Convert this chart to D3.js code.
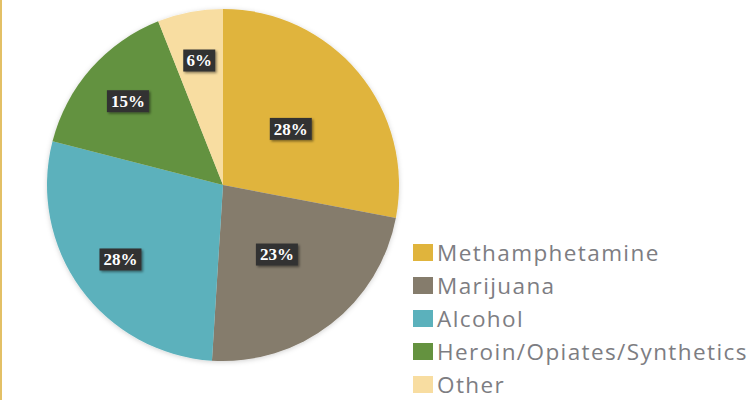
<!DOCTYPE html>
<html>
<head>
<meta charset="utf-8">
<script src="https://cdn.jsdelivr.net/npm/d3@7"></script>
<style>
  html, body { margin: 0; padding: 0; background: #fff; }
  svg { display: block; }
</style>
</head>
<body>
<svg id="chart"></svg>
<script>
const categories = ["Methamphetamine", "Marijuana", "Alcohol", "Heroin/Opiates/Synthetics", "Other"];
const shares = [28, 23, 28, 15, 6];
const colors = ["#e0b43c", "#857c6c", "#5bb1bc", "#64923f", "#f8dda1"];

const width = 754;
const height = 400;
const radius = 176;
const cx = 223, cy = 185;

const svg = d3.select("#chart").attr("width", width).attr("height", height);

// thin gold rule on the left edge
svg.append("rect").attr("x", 0).attr("y", 0).attr("width", 2).attr("height", height).attr("fill", "#e3c066");

const defs = svg.append("defs");
const shadow = defs.append("filter").attr("id", "soft").attr("x", "-10%").attr("y", "-10%").attr("width", "120%").attr("height", "120%");
shadow.append("feDropShadow").attr("dx", 0).attr("dy", 1).attr("stdDeviation", 2.5).attr("flood-color", "#000").attr("flood-opacity", 0.18);
const boxShadow = defs.append("filter").attr("id", "boxsh").attr("x", "-20%").attr("y", "-20%").attr("width", "150%").attr("height", "160%");
boxShadow.append("feDropShadow").attr("dx", 1.5).attr("dy", 1.5).attr("stdDeviation", 1).attr("flood-color", "#000").attr("flood-opacity", 0.45);

const pieData = d3.pie().sort(null).value((d) => d)(shares);
const arc = d3.arc().innerRadius(0).outerRadius(radius);

const g = svg.append("g").attr("transform", `translate(${cx},${cy})`);

g.append("g").attr("filter", "url(#soft)")
  .selectAll("path")
  .data(pieData)
  .enter().append("path")
  .attr("d", arc)
  .attr("fill", (d, i) => colors[i]);

// labels: the two right slices sit at half radius, the others further out
const labels = g.selectAll("g.lbl")
  .data(pieData)
  .enter().append("g")
  .attr("class", "lbl")
  .attr("transform", (d, i) => {
    const r = i < 2 ? radius * 0.5 : radius * 0.72;
    const a = (d.startAngle + d.endAngle) / 2;
    return `translate(${r * Math.sin(a)},${-r * Math.cos(a)})`;
  });

labels.append("rect")
  .attr("x", (d) => (d.data < 10 ? -16 : -21))
  .attr("y", -11)
  .attr("width", (d) => (d.data < 10 ? 32 : 42))
  .attr("height", 22)
  .attr("fill", "#333333")
  .attr("filter", "url(#boxsh)");

labels.append("text")
  .attr("text-anchor", "middle")
  .attr("dy", "0.35em")
  .attr("fill", "#fff")
  .attr("font-family", "'Liberation Serif', 'DejaVu Serif', serif")
  .attr("font-weight", "bold")
  .attr("font-size", 17)
  .text((d) => d.data + "%");

// legend
const legend = svg.append("g").attr("transform", "translate(413,252.5)");
const rows = legend.selectAll("g")
  .data(categories)
  .enter().append("g")
  .attr("transform", (d, i) => `translate(0,${i * 33})`);

rows.append("rect")
  .attr("x", 0).attr("y", -8.5)
  .attr("width", 20).attr("height", 17)
  .attr("fill", (d, i) => colors[i]);

rows.append("text")
  .attr("x", 24)
  .attr("dy", "0.36em")
  .attr("fill", "#7d7d82")
  .attr("font-family", "'Open Sans', Lato, sans-serif")
  .attr("font-size", 22.5)
  .attr("letter-spacing", 1.4)
  .text((d) => d);
</script>
</body>
</html>
